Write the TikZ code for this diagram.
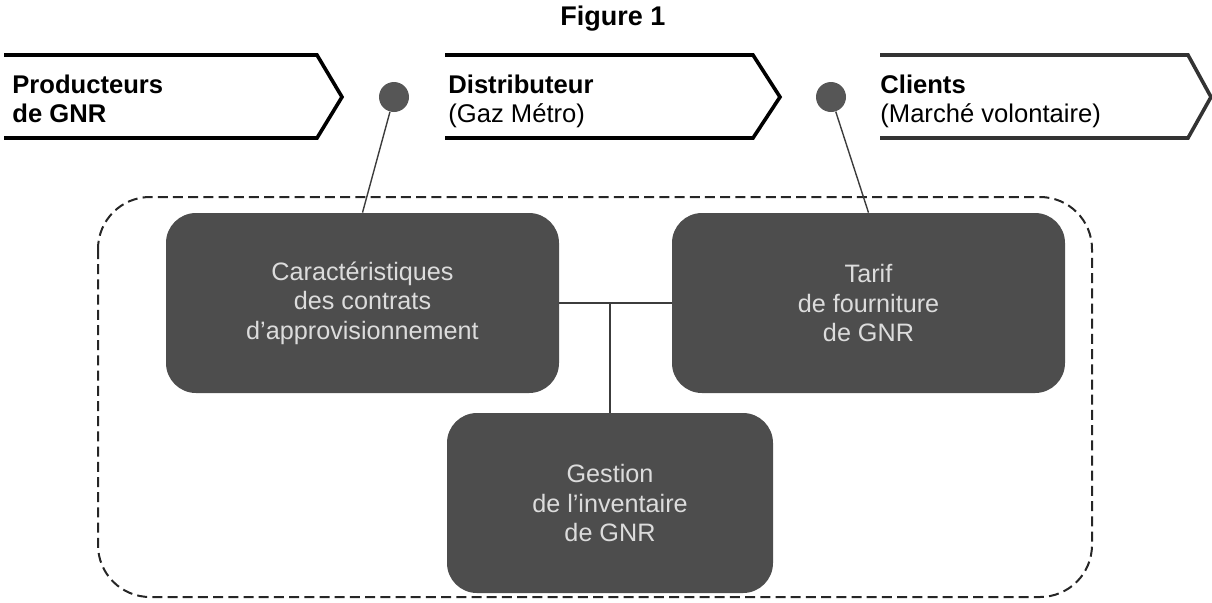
\documentclass[tikz,border=0pt]{standalone}
\usepackage{fontspec}
\setmainfont{Liberation Sans}
\usepackage{xcolor}
\definecolor{blokgray}{HTML}{4D4D4D}
\definecolor{pingray}{HTML}{565656}
\definecolor{textgray}{HTML}{DCDCDC}
\definecolor{linegray}{HTML}{3C3C3C}

\begin{document}
\begin{tikzpicture}[x=0.5pt,y=-0.5pt,
  phase/.style={line width=1.8pt,line join=miter},
  tag/.style={anchor=north west,inner sep=0,align=left,font=\fontsize{12.8}{14.5}\selectfont},
  blok/.style={draw=none,fill=blokgray,rounded corners=15pt,text=textgray,align=center,
    font=\fontsize{12.6}{14.8}\selectfont,minimum height=90pt,inner sep=0},
  pin/.style={circle,fill=pingray,minimum size=15pt,inner sep=0},
  link/.style={draw=linegray,line width=0.7pt},
  zone/.style={draw=black!85,line width=1pt,dash pattern=on 5pt off 2.6pt,rounded corners=26pt}]
\useasboundingbox (0,0) rectangle (1212,602);
% title
\node[font=\bfseries\fontsize{13.5}{16}\selectfont] (title) at (613,19) {Figure 1};
% the three chevrons
\draw[phase] (4,55) -- (317,55) -- (342,97) -- (317,138) -- (4,138);
\node[tag] (prodLbl) at (12,75) {\textbf{Producteurs}\\\textbf{de GNR}};
\draw[phase] (445,55) -- (753,55) -- (780,97) -- (753,138) -- (445,138);
\node[tag] (distLbl) at (448,75) {\textbf{Distributeur}\\(Gaz Métro)};
\draw[phase,draw=black!80] (880,55) -- (1188,55) -- (1211,97) -- (1188,138) -- (880,138);
\node[tag] (clientLbl) at (880,75) {\textbf{Clients}\\(Marché volontaire)};
% dashed zone
\draw[zone] (98,197) rectangle (1092,597);
% boxes
\node[blok,minimum width=196.5pt] (contrats) at (362.5,303) {Caractéristiques\\des contrats\\d'approvisionnement};
\node[blok,minimum width=196.5pt] (tarif) at (868.5,303) {Tarif\\de fourniture\\de GNR};
\node[blok,minimum width=163pt] (gestion) at (610,503) {Gestion\\de l'inventaire\\de GNR};
% pins
\node[pin] (pinA) at (394,97) {};
\node[pin] (pinB) at (831,97) {};
\draw[link] (pinA) -- (contrats.north);
\draw[link] (pinB) -- (tarif.north);
% connectors between boxes
\draw[link,line width=0.9pt] (contrats) -- (tarif);
\draw[link,line width=0.9pt] (gestion.north) -- (gestion.north |- contrats.east);
\end{tikzpicture}
\end{document}
